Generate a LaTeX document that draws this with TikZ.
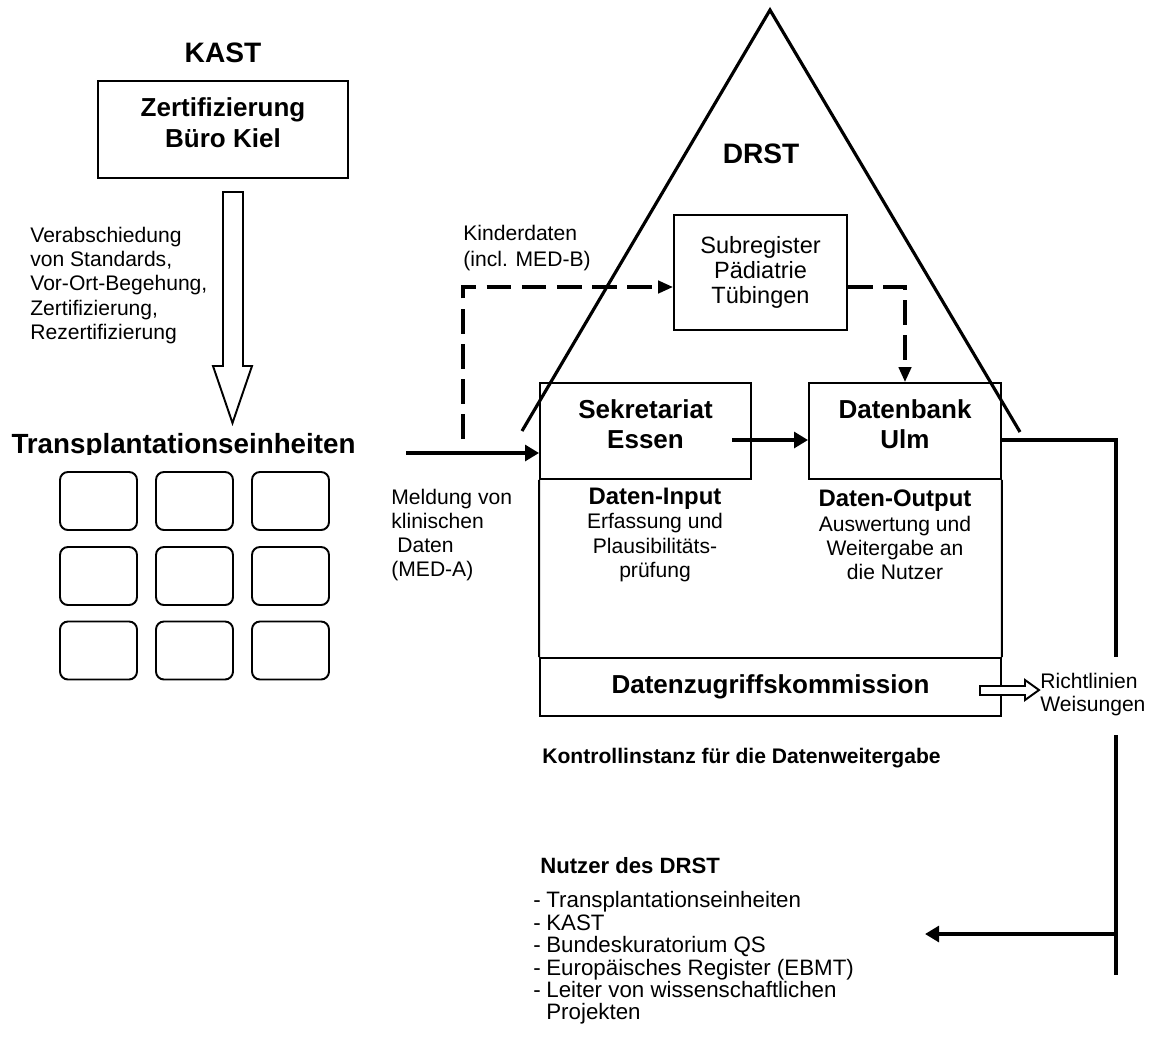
\documentclass[tikz,border=0pt]{standalone}
\usepackage{fontspec}
\setmainfont{Liberation Sans}
\usetikzlibrary{arrows.meta,positioning}

\newcommand{\listdash}{\makebox[7.4pt][l]{-}}

\begin{document}
\begin{tikzpicture}[x=0.02cm,y=-0.02cm,
  every node/.style={inner sep=0pt},
  box/.style={draw,line width=1.1pt,align=center},
  heading/.style={font=\bfseries\fontsize{16}{19}\selectfont},
  boxtext/.style={font=\bfseries\fontsize{14.8}{17.3}\selectfont,text depth=8pt},
  txt/.style={font=\fontsize{12}{13.9}\selectfont,align=left},
  flow/.style={line width=2.7pt,-{Triangle[length=8pt,width=9pt]}},
  kinder/.style={line width=1.9pt,dash pattern=on 14pt off 6pt,-{Triangle[length=8.5pt,width=7pt]}},
  hollow/.style={draw,line width=1.1pt,fill=white,line join=miter}]

\useasboundingbox (0,0) rectangle (1155,1052);

% KAST side
\node[heading,anchor=base] (kast) at (223,62) {KAST};
\node[box,boxtext,minimum width=5cm,minimum height=1.94cm] (kiel) at (223,129.5) {Zertifizierung\\Büro Kiel};
\draw[hollow] (223,192) -- (243,192) -- (243,366) -- (252,366) -- (232.5,423) -- (213,366) -- (223,366) -- cycle;
\node[txt,anchor=west] (standards) at (30,285.5) {Verabschiedung\\von Standards,\\Vor-Ort-Begehung,\\Zertifizierung,\\Rezertifizierung};

\begin{scope}
  \clip (0,400) rectangle (400,454);
  \node[font=\bfseries\fontsize{15.8}{19}\selectfont,anchor=base] (einheiten) at (183.5,453) {Transplantationseinheiten};
\end{scope}

\begin{scope}[every node/.style={draw,line width=1.1pt,rounded corners=4.5pt,minimum width=1.54cm,minimum height=1.16cm}]
    \node (unit11) at (98.5,501) {};
    \node (unit12) at (194.5,501) {};
    \node (unit13) at (290.5,501) {};
    \node (unit21) at (98.5,576) {};
    \node (unit22) at (194.5,576) {};
    \node (unit23) at (290.5,576) {};
    \node (unit31) at (98.5,650.5) {};
    \node (unit32) at (194.5,650.5) {};
    \node (unit33) at (290.5,650.5) {};
\end{scope}

% DRST side
\node[heading,anchor=base] (drst) at (761,163) {DRST};
\node[box,txt,align=center,font=\fontsize{13.4}{14.2}\selectfont,minimum width=3.46cm,minimum height=2.3cm] (subreg) at (760.5,272.5) {Subregister\\Pädiatrie\\Tübingen};
\node[box,boxtext,minimum width=4.22cm,minimum height=1.92cm] (sek) at (645.5,431) {Sekretariat\\Essen};
\node[box,boxtext,minimum width=3.84cm,minimum height=1.92cm] (ulm) at (905,431) {Datenbank\\Ulm};
\node[box,font=\bfseries\fontsize{14.8}{17}\selectfont,minimum width=9.22cm,minimum height=1.16cm] (dzk) at (770.5,687) {Datenzugriffskommission};
\draw[line width=1.1pt] (sek.south west) -- (dzk.north west);
\draw[line width=1.1pt] (ulm.south east) -- (dzk.north east);

\draw[line width=1.8pt] (522,431) -- (770,10) -- (1020,432);

\node[txt,anchor=west,font=\fontsize{12}{15.3}\selectfont] (kinderlbl) at (463,248) {Kinderdaten\\(incl. MED-B)};
\node[txt,anchor=west,font=\fontsize{12}{13.8}\selectfont] (meldung) at (391,535) {Meldung von\\klinischen\\\hspace{3.4pt}Daten\\(MED-A)};
\node[txt,align=center,font=\fontsize{12}{13.8}\selectfont] (input) at (655,535) {{\bfseries\fontsize{13.6}{13.8}\selectfont Daten-Input}\\Erfassung und\\Plausibilitäts-\\prüfung};
\node[txt,align=center,font=\fontsize{12}{13.8}\selectfont] (output) at (895,535) {{\bfseries\fontsize{13.6}{13.8}\selectfont Daten-Output}\\Auswertung und\\Weitergabe an\\die Nutzer};

\node[txt,anchor=west,font=\fontsize{12}{13.6}\selectfont] (richtlinien) at (1040,694.5) {Richtlinien\\Weisungen};
\draw[hollow] (980,686) -- (1025,686) -- (1025,680) -- (1039,690) -- (1025,700) -- (1025,695) -- (980,695) -- cycle;

\node[font=\bfseries\fontsize{12}{14}\selectfont,anchor=base west] (kontrolle) at (542,763) {Kontrollinstanz für die Datenweitergabe};
\node[font=\bfseries\fontsize{12.6}{15}\selectfont,anchor=base west] (nutzer) at (540,873) {Nutzer des DRST};
\node[txt,anchor=north west,font=\fontsize{12.7}{12.8}\selectfont] (liste) at (533,891) {\listdash Transplantationseinheiten\\\listdash KAST\\\listdash Bundeskuratorium QS\\\listdash Europäisches Register (EBMT)\\\listdash Leiter von wissenschaftlichen\\\phantom{\listdash}Projekten};

% connectors
\coordinate (meldin) at (406,453);
\coordinate (kdfoot) at (463,439);
\coordinate (kdbend) at (463,287);
\coordinate (sekout) at (732,440);
\coordinate (rtop) at (1116,440);
\coordinate (gapa) at (1116,657);
\coordinate (gapb) at (1116,735);
\coordinate (fork) at (1116,934);
\coordinate (rbot) at (1116,975);
\coordinate (nutzerin) at (925,934);

\draw[flow] (meldin) -- (sek.west |- meldin);
\draw[flow] (sekout) -- (ulm.west |- sekout);
\draw[kinder] (kdfoot) -- (kdbend) -- (subreg.west |- kdbend);
\draw[kinder] (subreg.east |- kdbend) -| (ulm.north);
\draw[line width=2.7pt,line join=miter] (ulm.east |- rtop) -- (rtop) -- (gapa);
\draw[line width=2.7pt] (gapb) -- (rbot);
\draw[flow] (fork) -- (nutzerin);
\end{tikzpicture}
\end{document}
